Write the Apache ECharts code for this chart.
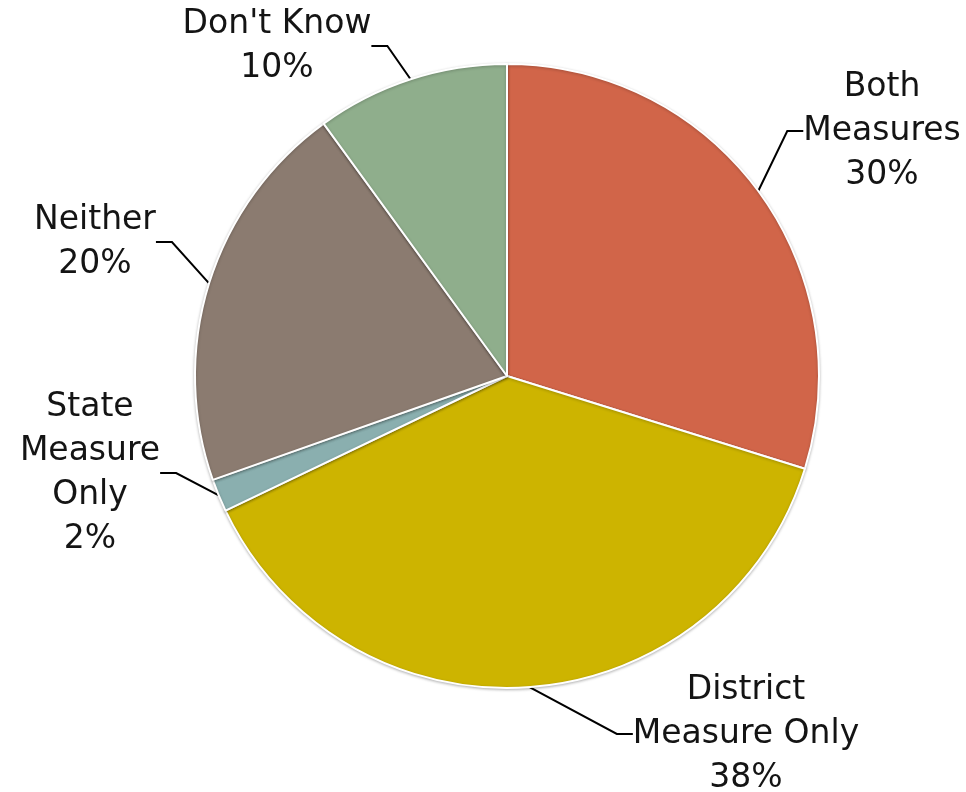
<!DOCTYPE html>
<html>
<head>
<meta charset="utf-8">
<script src="https://cdn.jsdelivr.net/npm/echarts@6/dist/echarts.min.js"></script>
<style>
html,body{margin:0;padding:0;background:#fff;}
#chart{width:966px;height:792px;}
</style>
</head>
<body>
<div id="chart"></div>
<script>
// Data
const categories = ['Both\nMeasures', 'District\nMeasure Only', 'State\nMeasure\nOnly', 'Neither', "Don't Know"];
const values = [29.8, 38.1, 1.7, 20.4, 10.0];
const colors = ['#D16549', '#CDB400', '#8AAFAF', '#8B7B70', '#8FAE8C'];

// Label block centres (layout only)
const labelPos = [[882, 131], [746, 734], [90, 473], [95, 242], [277, 46]];

const chart = echarts.init(document.getElementById('chart'));
chart.setOption({
  backgroundColor: '#fff',
  animation: false,
  series: [{
    type: 'pie',
    center: [507, 376],
    radius: [0, 312],
    startAngle: 90,
    clockwise: true,
    data: categories.map((c, i) => ({ name: c, value: values[i], itemStyle: { color: colors[i] } })),
    itemStyle: { borderColor: '#fff', borderWidth: 2, shadowColor: 'rgba(0,0,0,0.25)', shadowBlur: 3, shadowOffsetY: 1 },
    label: {
      show: true,
      position: 'outside',
      formatter: p => p.name + '\n' + Math.round(p.percent) + '%',
      fontFamily: 'DejaVu Sans',
      fontSize: 33,
      lineHeight: 44,
      color: '#141414',
      align: 'center'
    },
    labelLine: { show: true, length: 20, length2: 16, lineStyle: { color: '#000', width: 2 } },
    labelLayout: function (params) {
      const p = labelPos[params.dataIndex];
      return { x: p[0], y: p[1], align: 'center', verticalAlign: 'middle' };
    },
    emphasis: { disabled: true }
  }]
});
</script>
</body>
</html>
